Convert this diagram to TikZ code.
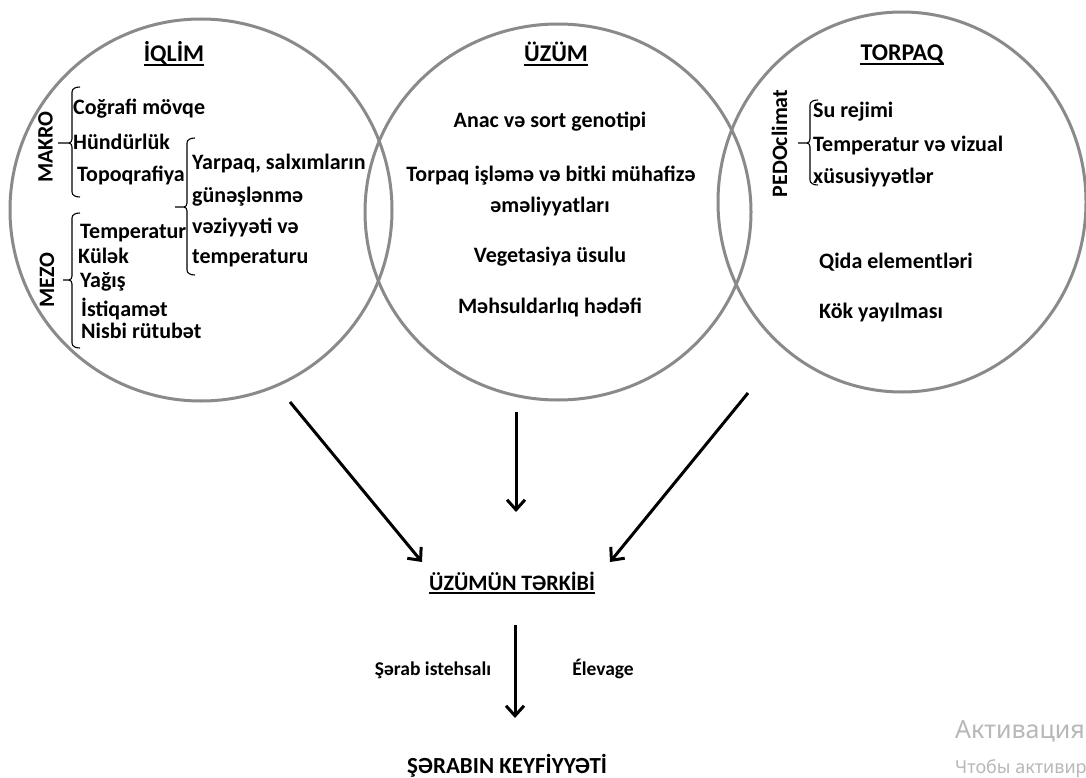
\documentclass[tikz,border=0pt]{standalone}
\usepackage{fontspec}
\setmainfont{Carlito}
\newfontfamily\wmfont{Noto Sans}
\usetikzlibrary{arrows.meta}
\definecolor{ringgray}{HTML}{8A8A8A}
\definecolor{wmgray}{HTML}{B8B8B8}
\tikzset{
  ring/.style={draw=ringgray, line width=3pt},
  body/.style={font=\fontsize{22}{26}\selectfont\bfseries, inner sep=0pt},
  small/.style={font=\fontsize{19.5}{23}\selectfont\bfseries, inner sep=0pt},
  ttl/.style={font=\fontsize{24}{28}\selectfont\bfseries, inner sep=0pt},
  ulin/.style={line width=1.8pt},
  bracepath/.style={line width=1.1pt},
  arr/.style={line width=3pt, -{Straight Barb[length=10pt,width=18pt,line width=3pt]}},
  wm/.style={text=wmgray, inner sep=0pt}
}
\newcommand{\mybrace}[5]{% x, top, mid, bottom, tickx
  \draw[bracepath] (#1+8,#2) to[out=180,in=90] (#1,#2+5) -- (#1,#3-4)
    to[out=270,in=0] (#1-3,#3) -- (#5,#3);
  \draw[bracepath] (#1-3,#3) to[out=0,in=90] (#1,#3+4) -- (#1,#4-5)
    to[out=270,in=180] (#1+8,#4);
}
\begin{document}
\begin{tikzpicture}[x=1pt,y=-1pt]
\useasboundingbox (0,0) rectangle (1086,778);
\clip (0,0) rectangle (1086,778);
\fill[white] (0,0) rectangle (1086,778);

% circles
\draw[ring] (201,210) circle[x radius=191, y radius=191];
\draw[ring] (558,212) circle[x radius=193, y radius=188];
\draw[ring] (902,202) circle[x radius=184, y radius=190];

% titles
\node[ttl, anchor=base] (iqlim) at (174,62) {İQLİM};
\node[ttl, anchor=base] (uzum) at (556,62) {ÜZÜM};
\node[ttl, anchor=base] (torpaq) at (902,61) {TORPAQ};
\draw[ulin] ([yshift=-3pt]iqlim.base west) -- ([yshift=-3pt]iqlim.base east);
\draw[ulin] ([yshift=-3pt]uzum.base west) -- ([yshift=-3pt]uzum.base east);
\draw[ulin] ([yshift=-3pt]torpaq.base west) -- ([yshift=-3pt]torpaq.base east);

% IQLIM content
\node[body, rotate=90] (makro) at (45.5,147) {MAKRO};
\node[body, rotate=90] (mezo) at (47,280) {MEZO};
\mybrace{72}{87}{143}{197}{58}
\mybrace{187}{138}{207}{275}{175}
\mybrace{72}{213}{280}{348}{63}
\node[body, anchor=base west] (cografi) at (73,115) {Coğrafi mövqe};
\node[body, anchor=base west] (hundur) at (73,150) {Hündürlük};
\node[body, anchor=base west] (topo) at (77,182) {Topoqrafiya};
\node[body, anchor=base west] (yarpaq1) at (192,170) {Yarpaq, salxımların};
\node[body, anchor=base west] (yarpaq2) at (192,202) {günəşlənmə};
\node[body, anchor=base west] (yarpaq3) at (192,233) {vəziyyəti və};
\node[body, anchor=base west] (yarpaq4) at (192,263) {temperaturu};
\node[body, anchor=base west] (temp1) at (80,238) {Temperatur};
\node[body, anchor=base west] (kulek) at (78,263) {Külək};
\node[body, anchor=base west] (yagis) at (80,287) {Yağış};
\node[body, anchor=base west] (istiq) at (81,316) {İstiqamət};
\node[body, anchor=base west] (nisbi) at (81,338) {Nisbi rütubət};

% UZUM content
\node[body, anchor=base] (anac) at (550,128) {Anac və sort genotipi};
\node[body, anchor=base] (torp1) at (551,182) {Torpaq işləmə və bitki mühafizə};
\node[body, anchor=base] (torp2) at (550,212) {əməliyyatları};
\node[body, anchor=base] (veget) at (550,262) {Vegetasiya üsulu};
\node[body, anchor=base] (mehsul) at (550,313) {Məhsuldarlıq hədəfi};

% TORPAQ content
\node[body, rotate=90] (pedo) at (779.5,143.5) {PEDOclimat};
\mybrace{810}{100}{143}{185}{798}
\node[body, anchor=base west] (su) at (813,118) {Su rejimi};
\node[body, anchor=base west] (temp2) at (813,152) {Temperatur və vizual};
\node[body, anchor=base west] (xusus) at (813,183) {xüsusiyyətlər};
\node[body, anchor=base west] (qida) at (819,268) {Qida elementləri};
\node[body, anchor=base west] (kok) at (819,318) {Kök yayılması};

% lower part
\node[body, anchor=base] (terkib) at (512,590) {ÜZÜMÜN TƏRKİBİ};
\draw[ulin] ([yshift=-3pt]terkib.base west) -- ([yshift=-3pt]terkib.base east);
\node[small, anchor=base] (serab) at (433,675) {Şərab istehsalı};
\node[small, anchor=base] (elev) at (603,675) {Élevage};
\node[ttl, font=\fontsize{23}{27}\selectfont\bfseries, anchor=base] (keyf) at (507,773) {ŞƏRABIN KEYFİYYƏTİ};

\coordinate (a1s) at (290,402);
\coordinate (a1e) at (422,562);
\coordinate (a2s) at (516,412);
\coordinate (a2e) at (516,512);
\coordinate (a3s) at (748,393);
\coordinate (a3e) at (610,562);
\coordinate (a4s) at (515,625);
\coordinate (a4e) at (515,718);
\draw[arr] (a1s) -- (a1e);
\draw[arr] (a2s) -- (a2e);
\draw[arr] (a3s) -- (a3e);
\draw[arr] (a4s) -- (a4e);

% watermark
\node[wm, font=\wmfont\fontsize{25}{29}\selectfont, anchor=base west] (wm1) at (955,738) {Активация};
\node[wm, font=\wmfont\fontsize{18}{21}\selectfont, anchor=base west] (wm2) at (955,773) {Чтобы активир};
\end{tikzpicture}
\end{document}
